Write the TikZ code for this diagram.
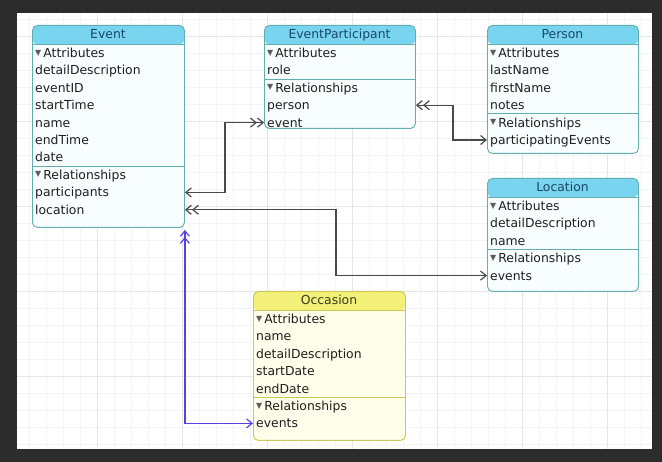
\documentclass[tikz,border=0pt]{standalone}
\usepackage{fontspec}
\setmainfont{DejaVu Sans}
\usetikzlibrary{arrows.meta,calc}
\definecolor{bgdark}{HTML}{2C2C2C}
\definecolor{gridmaj}{HTML}{E6E6E6}
\definecolor{gridmin}{HTML}{F4F4F4}
\definecolor{bordc}{HTML}{62AEB0}
\definecolor{headc}{HTML}{78D4EF}
\definecolor{bodyc}{HTML}{F8FDFD}
\definecolor{htxtc}{HTML}{1B4866}
\definecolor{txtc}{HTML}{1F1F1F}
\definecolor{obordc}{HTML}{C9C95A}
\definecolor{oheadc}{HTML}{F3F07A}
\definecolor{obodyc}{HTML}{FEFEEA}
\definecolor{ohtxtc}{HTML}{3A3A20}
\definecolor{connc}{HTML}{4A4A4A}
\definecolor{purpc}{HTML}{5B3FE6}
\definecolor{trigray}{HTML}{5E5E5E}
\newcommand{\tri}{\raisebox{2.3pt}{\fontsize{8}{8}\selectfont\color{trigray}▼}\,}
\begin{document}
\begin{tikzpicture}[x=1pt,y=-1pt,
  >={Straight Barb[length=5.5pt,width=9pt]},
  entity/.style n args={3}{draw=#1, line width=0.9pt, rounded corners=5pt, fill=#2,
    inner sep=0pt, anchor=north west,
    path picture={\fill[#3] (path picture bounding box.north west) rectangle ([yshift=-19pt]path picture bounding box.north east);
      \draw[#1,line width=0.9pt] ([yshift=-19pt]path picture bounding box.north west) -- ([yshift=-19pt]path picture bounding box.north east);}},
  ent/.style={entity={bordc}{bodyc}{headc}},
  occ/.style={entity={obordc}{obodyc}{oheadc}},
  row/.style={anchor=west, inner sep=0pt, text height=9pt, text depth=0pt, font=\fontsize{12.4}{14}\selectfont, text=txtc},
  title/.style={inner sep=0pt, text height=9pt, text depth=0pt, font=\fontsize{12.4}{14}\selectfont, text=#1},
  sepline/.style={draw=#1, line width=0.9pt},
  conn/.style={draw=connc, line width=1.2pt},
  pconn/.style={draw=purpc, line width=1.2pt}
]
\useasboundingbox (0,0) rectangle (662,462);
\fill[bgdark] (0,0) rectangle (662,462);
\fill[white] (17,13) rectangle (652,449);
\begin{scope}
\clip (17,13) rectangle (652,449);
\foreach \x in {29,46,...,652} \draw[gridmin,line width=0.6pt] (\x,13) -- (\x,449);
\foreach \y in {19,36,...,449} \draw[gridmin,line width=0.6pt] (17,\y) -- (652,\y);
\foreach \x in {97,182,...,652} \draw[gridmaj,line width=0.7pt] (\x,13) -- (\x,449);
\foreach \y in {36,121,...,449} \draw[gridmaj,line width=0.7pt] (17,\y) -- (652,\y);
\end{scope}

% Event
\node[ent, minimum width=152pt, minimum height=202pt] (ev) at (32,25) {};
\node[title=htxtc] (evT) at (108,34.5) {Event};
\node[row] (evA) at (35,53) {\tri Attributes};
\node[row] (evDD) at (35,70.4) {detailDescription};
\node[row] (evID) at (35,87.8) {eventID};
\node[row] (evST) at (35,105.2) {startTime};
\node[row] (evN) at (35,122.6) {name};
\node[row] (evET) at (35,140) {endTime};
\node[row] (evD) at (35,157.4) {date};
\draw[sepline=bordc] (ev.west |- 0,166.3) -- (ev.east |- 0,166.3);
\node[row] (evR) at (35,174.8) {\tri Relationships};
\node[row] (evPart) at (35,192.4) {participants};
\node[row] (evLoc) at (35,209.8) {location};

% EventParticipant
\node[ent, minimum width=151pt, minimum height=103pt] (ep) at (264,25) {};
\node[title=htxtc] (epT) at (339.5,34.5) {EventParticipant};
\node[row] (epA) at (267,53) {\tri Attributes};
\node[row] (epRole) at (267,70.4) {role};
\draw[sepline=bordc] (ep.west |- 0,79.1) -- (ep.east |- 0,79.1);
\node[row] (epR) at (267,87.8) {\tri Relationships};
\node[row] (epPers) at (267,105.2) {person};
\node[row] (epEv) at (267,122.6) {event};

% Person
\node[ent, minimum width=151pt, minimum height=128pt] (pe) at (487,25) {};
\node[title=htxtc] (peT) at (562.5,34.5) {Person};
\node[row] (peA) at (490,53) {\tri Attributes};
\node[row] (peLN) at (490,70.4) {lastName};
\node[row] (peFN) at (490,87.8) {firstName};
\node[row] (peNo) at (490,105.2) {notes};
\draw[sepline=bordc] (pe.west |- 0,113.9) -- (pe.east |- 0,113.9);
\node[row] (peR) at (490,122.6) {\tri Relationships};
\node[row] (pePart) at (490,140) {participatingEvents};

% Location
\node[ent, minimum width=151pt, minimum height=113pt] (lo) at (487,178) {};
\node[title=htxtc] (loT) at (562.5,187.5) {Location};
\node[row] (loA) at (490,206) {\tri Attributes};
\node[row] (loDD) at (490,223.4) {detailDescription};
\node[row] (loN) at (490,240.8) {name};
\draw[sepline=bordc] (lo.west |- 0,249.5) -- (lo.east |- 0,249.5);
\node[row] (loR) at (490,258.2) {\tri Relationships};
\node[row] (loEv) at (490,275.6) {events};

% Occasion
\node[occ, minimum width=152pt, minimum height=149pt] (oc) at (253,291) {};
\node[title=ohtxtc] (ocT) at (329,300.5) {Occasion};
\node[row] (ocA) at (256,319) {\tri Attributes};
\node[row] (ocN) at (256,336.4) {name};
\node[row] (ocDD) at (256,353.8) {detailDescription};
\node[row] (ocSD) at (256,371.2) {startDate};
\node[row] (ocED) at (256,388.6) {endDate};
\draw[sepline=obordc] (oc.west |- 0,397.3) -- (oc.east |- 0,397.3);
\node[row] (ocR) at (256,406) {\tri Relationships};
\node[row] (ocEv) at (256,423.4) {events};

% connectors
\draw[conn,<->>] (ev.east |- evPart) -- ++(40,0) |- (ep.west |- epEv);
\draw[conn,<<->] (ep.east |- epPers) -- ++(37,0) |- (pe.west |- pePart);
\draw[conn,<<->] (ev.east |- evLoc) -- ++(151,0) |- (lo.west |- loEv);
\draw[pconn,<<->] ([yshift=-2pt]ev.south east) |- (oc.west |- ocEv);
\end{tikzpicture}
\end{document}
